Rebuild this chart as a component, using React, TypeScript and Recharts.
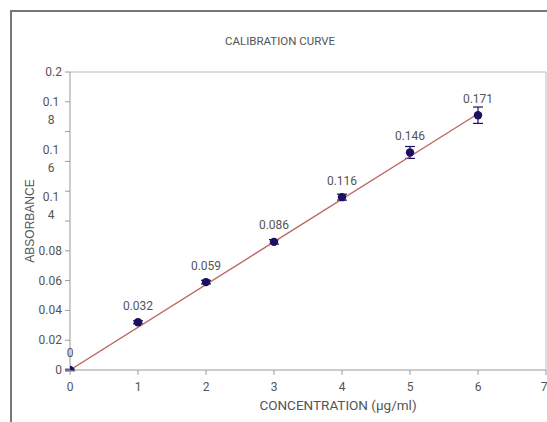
import { ComposedChart, Scatter, XAxis, YAxis, ErrorBar, LabelList, ReferenceLine, Label } from 'recharts';

const concentrations = [0, 1, 2, 3, 4, 5, 6];
const absorbances = [0, 0.032, 0.059, 0.086, 0.116, 0.146, 0.171];
const errors = [0.0005, 0.001, 0.0012, 0.0015, 0.002, 0.004, 0.0055];
const pointLabels = ['0', '0.032', '0.059', '0.086', '0.116', '0.146', '0.171'];

// linear trendline
const trendX = [0, 6];
const trendY = [0, 0.172];

const xTicks = [0, 1, 2, 3, 4, 5, 6, 7];
const yTicks = [0, 0.02, 0.04, 0.06, 0.08, 0.1, 0.12, 0.14, 0.16, 0.18, 0.2];

const points = concentrations.map((x, i) => ({ x, y: absorbances[i], err: errors[i], label: pointLabels[i] }));
const trend = trendX.map((x, i) => ({ x, y: trendY[i] }));

const FONT = 'Roboto, "Liberation Sans", sans-serif';
const TEXT = '#555';

// Excel wrapped the upper labels onto two lines and pushed them down
const WRAPPED: Record<string, { top: string; bottom: string; shift: number }> = {
  '0.18': { top: '0.1', bottom: '8', shift: 0 },
  '0.16': { top: '0.1', bottom: '6', shift: 18 },
  '0.14': { top: '0.1', bottom: '4', shift: 36 },
};
const HIDDEN = ['0.12', '0.10'];

const YTick = (props: any) => {
  const { x, y, payload } = props;
  const key = Number(payload.value).toFixed(2);
  if (HIDDEN.includes(key)) return <g />;
  const w = WRAPPED[key];
  if (w) {
    return (
      <text textAnchor="middle" fill={TEXT} fontSize={12} fontFamily={FONT}>
        <tspan x={x - 12} y={y + 4 + w.shift}>{w.top}</tspan>
        <tspan x={x - 12} y={y + 22 + w.shift}>{w.bottom}</tspan>
      </text>
    );
  }
  const text = Number(payload.value) === 0.2 ? '0.2' : Number(payload.value) === 0 ? '0' : key;
  return (
    <text x={x - 1} y={y + 4} textAnchor="end" fill={TEXT} fontSize={12} fontFamily={FONT}>
      {text}
    </text>
  );
};

const XTitle = (props: any) => {
  const vb = props.viewBox;
  return (
    <text
      x={vb.x + vb.width / 2 + 30}
      y={vb.y + vb.height - 12}
      textAnchor="middle"
      fill={TEXT}
      fontSize={13.5}
      fontFamily={FONT}
    >
      CONCENTRATION (µg/ml)
    </text>
  );
};

export default function App() {
  return (
    <div style={{ position: 'fixed', top: 0, left: 0, width: 547, height: 422, overflow: 'hidden', background: '#fff' }}>
      <div
        style={{
          position: 'absolute',
          left: 10,
          top: 10,
          width: 600,
          height: 500,
          borderLeft: '2px solid #777',
          borderTop: '2px solid #777',
        }}
      />
      <div
        style={{
          position: 'absolute',
          top: 34,
          left: 0,
          width: 560,
          textAlign: 'center',
          fontFamily: FONT,
          fontSize: 11.5,
          color: TEXT,
        }}
      >
        CALIBRATION CURVE
      </div>
      <div style={{ position: 'absolute', top: 0, left: 0 }}>
        <ComposedChart width={547} height={422} margin={{ top: 72, right: 1, bottom: 0, left: 0 }}>
          <XAxis
            type="number"
            dataKey="x"
            domain={[0, 7]}
            ticks={xTicks}
            allowDataOverflow
            stroke="#999"
            tickSize={5}
            tickMargin={7}
            height={52}
            tick={{ fill: TEXT, fontSize: 12, fontFamily: FONT }}
          >
            <Label content={<XTitle />} />
          </XAxis>
          <YAxis
            type="number"
            dataKey="y"
            domain={[0, 0.2]}
            ticks={yTicks}
            allowDataOverflow
            width={70}
            stroke="#999"
            tickSize={5}
            tick={<YTick />}
            label={{
              value: 'ABSORBANCE',
              angle: -90,
              position: 'insideLeft',
              offset: 30,
              style: { textAnchor: 'middle' },
              fill: TEXT,
              fontSize: 12,
              fontFamily: '"Liberation Sans", Arial, sans-serif',
            }}
          />
          <ReferenceLine y={0.2} stroke="#bbb" />
          <ReferenceLine x={7} stroke="#bbb" />
          <Scatter
            data={trend}
            line={{ stroke: '#bd6a64', strokeWidth: 1.4 }}
            lineType="joint"
            shape={() => <g />}
            isAnimationActive={false}
          />
          <Scatter
            data={points}
            isAnimationActive={false}
            shape={(p: any) => <circle cx={p.cx} cy={p.cy} r={4.2} fill="#1c1060" />}
          >
            <ErrorBar dataKey="err" direction="y" width={5} stroke="#1c1060" strokeWidth={1.2} />
            <LabelList dataKey="label" position="top" offset={8} fill={TEXT} fontSize={12} fontFamily={FONT} />
          </Scatter>
        </ComposedChart>
      </div>
    </div>
  );
}
